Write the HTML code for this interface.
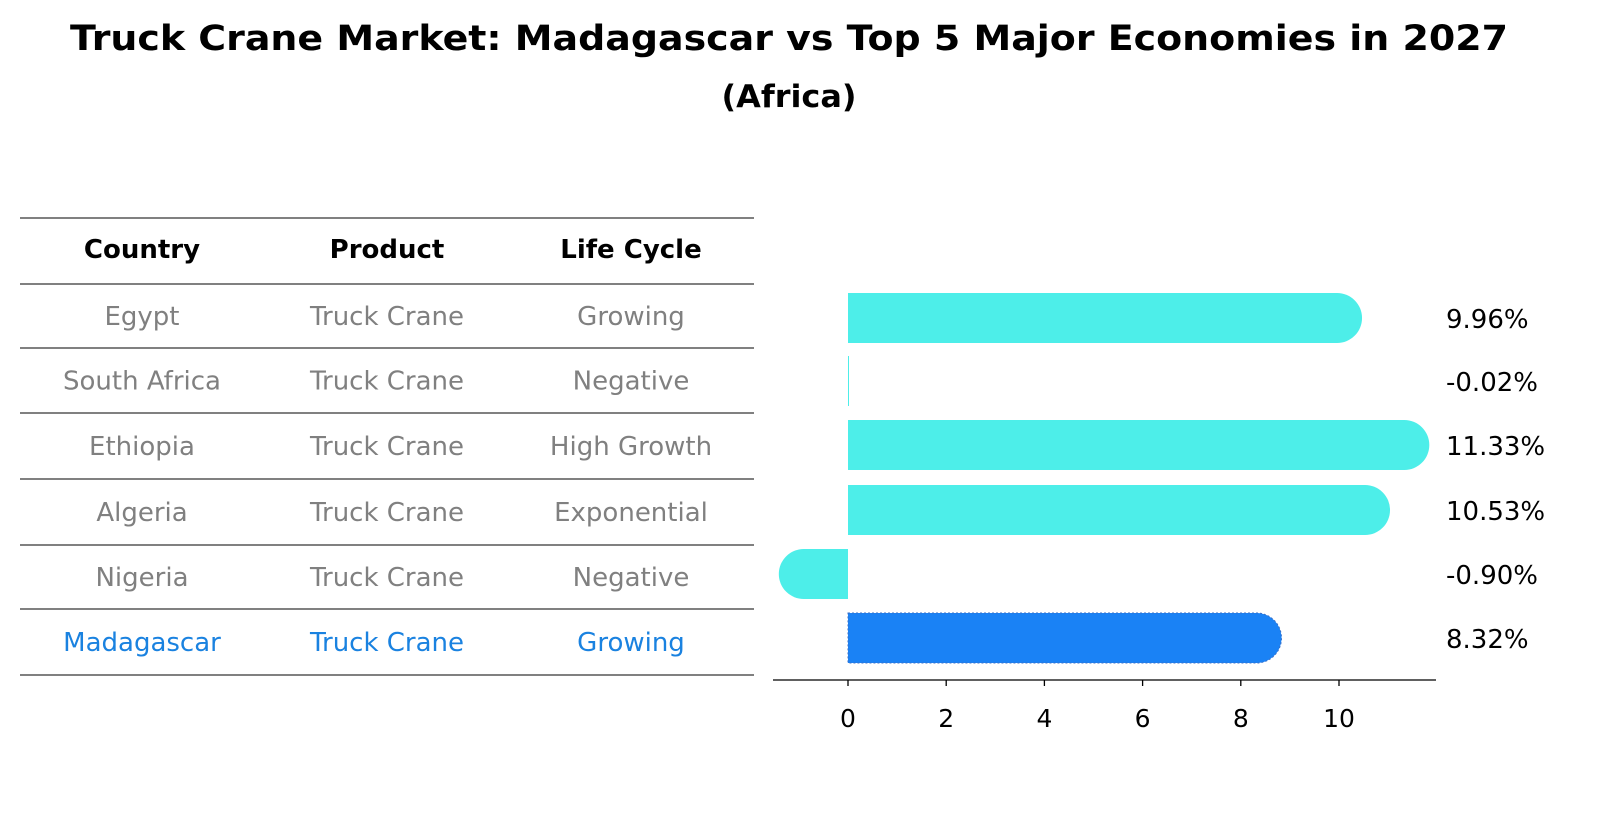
<!DOCTYPE html>
<html><head><meta charset="utf-8"><style>
body{margin:0;background:#fff;width:1604px;height:823px;overflow:hidden;font-family:"DejaVu Sans","Liberation Sans",sans-serif}
</style></head><body>
<svg width="1604" height="823" viewBox="0 0 1604 823">
<text x="789" y="50" text-anchor="middle" font-size="35" font-weight="bold" textLength="1438" lengthAdjust="spacingAndGlyphs" font-family="DejaVu Sans, sans-serif">Truck Crane Market: Madagascar vs Top 5 Major Economies in 2027</text>
<text x="789" y="107" text-anchor="middle" font-size="31" font-weight="bold" textLength="135" lengthAdjust="spacingAndGlyphs" font-family="DejaVu Sans, sans-serif">(Africa)</text>
<g id="table"></g>
<g id="bars"></g>
</svg>
<script>
const countries=["Egypt","South Africa","Ethiopia","Algeria","Nigeria","Madagascar"];
const products=["Truck Crane","Truck Crane","Truck Crane","Truck Crane","Truck Crane","Truck Crane"];
const lifeCycles=["Growing","Negative","High Growth","Exponential","Negative","Growing"];
const growth=[9.96,-0.02,11.33,10.53,-0.90,8.32];
const tickVals=[0,2,4,6,8,10];
const NS="http://www.w3.org/2000/svg";
function mk(tag,attrs,parent,text){const e=document.createElementNS(NS,tag);for(const k in attrs)e.setAttribute(k,attrs[k]);if(text!==undefined)e.textContent=text;parent.appendChild(e);return e;}
const tg=document.getElementById('table');
const lineYs=[218,284,348,413,479,545,609,675];
lineYs.forEach(y=>{const l=mk('line',{x1:20,x2:754,y1:y,y2:y,stroke:'#000','stroke-width':1},tg);

});
const colX=[142,387,631];
["Country","Product","Life Cycle"].forEach((h,i)=>{const t=mk('text',{x:colX[i],y:258,'text-anchor':'middle','font-size':26,'font-weight':'bold','font-family':'DejaVu Sans, sans-serif'},tg,h);

});
countries.forEach((c,r)=>{const y=(lineYs[r+1]+lineYs[r+2])/2+9;const col=r===5?'#1a82e0':'#808080';
[c,products[r],lifeCycles[r]].forEach((v,i)=>{const t=mk('text',{x:colX[i],y:y,'text-anchor':'middle','font-size':26,fill:col,'font-family':'DejaVu Sans, sans-serif'},tg,v);

});});
const bg=document.getElementById('bars');
const x0=848,scale=49.1;const xs=v=>x0+v*scale;
const centers=[318,381,445,510,574,638];const h=50,r=25;
growth.forEach((v,i)=>{const cy=centers[i];const a=xs(0),b=xs(v);const col=i===5?'#1a82f5':'#4deee9';
let d;
if(Math.abs(b-a)<1){d=`M${a} ${cy-h/2}h1v${h}h-1z`;}
else if(v>0){d=`M${a} ${cy-h/2}H${b}A${r} ${r} 0 0 1 ${b} ${cy+h/2}H${a}Z`;}
else{d=`M${a} ${cy-h/2}H${b}A${r} ${r} 0 0 0 ${b} ${cy+h/2}H${a}Z`;}
const p=mk('path',{d:d,fill:col},bg);
if(i===5){p.setAttribute('stroke','#3a70c8');p.setAttribute('stroke-dasharray','2 2');}


const t=mk('text',{x:1446,y:cy+10,'font-size':26,'font-family':'DejaVu Sans, sans-serif'},bg,v.toFixed(2)+'%');

});
const ax=mk('line',{x1:773,x2:1436,y1:680,y2:680,stroke:'#000','stroke-width':1.3},bg);


tickVals.forEach(v=>{const tk=mk('line',{x1:xs(v),x2:xs(v),y1:680,y2:686,stroke:'#000','stroke-width':1.3},bg);


const t=mk('text',{x:xs(v),y:727,'text-anchor':'middle','font-size':25,'font-family':'DejaVu Sans, sans-serif'},bg,String(v));

});
</script>
</body></html>
